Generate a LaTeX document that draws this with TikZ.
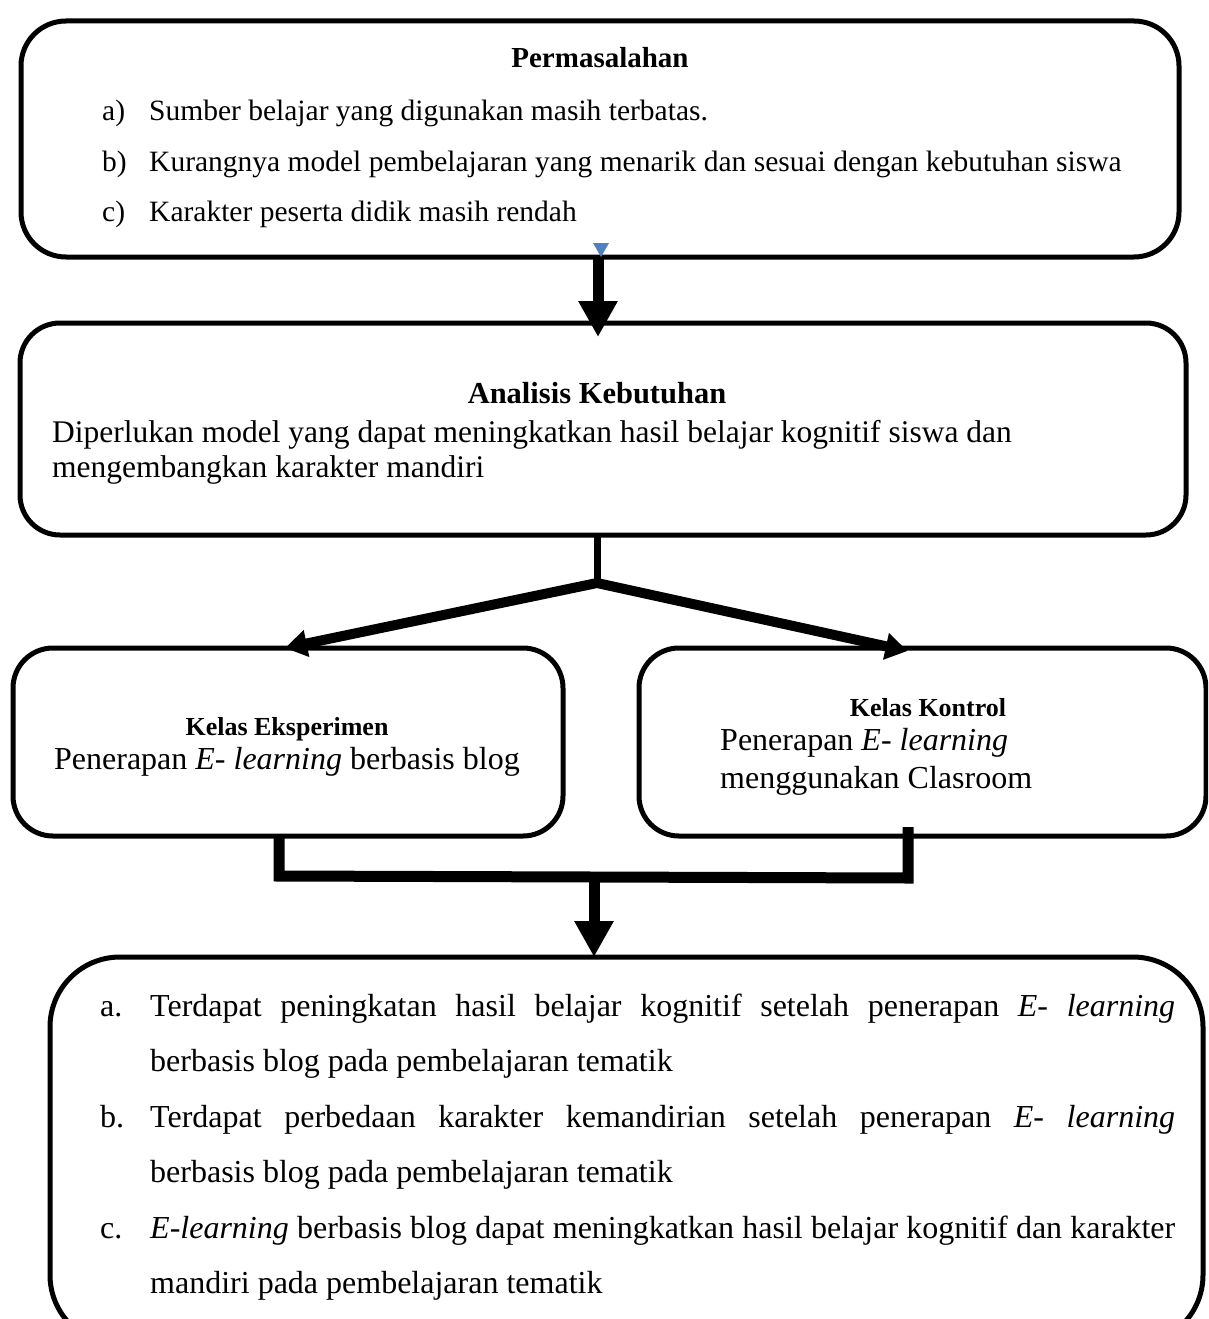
\documentclass[tikz,border=0pt]{standalone}
\usepackage{fontspec}
\setmainfont{Liberation Serif}
\usepackage{tikz}
\usetikzlibrary{arrows.meta}
\definecolor{wordblue}{HTML}{4F81BD}

\tikzset{
  flowbox/.style={draw, line width=5pt, rounded corners=#1, inner sep=0pt, outer sep=0pt},
  flowbox/.default=40pt,
  thickarrow/.style={line width=11pt, -{Triangle[width=37pt,length=36pt]}},
  diagarrow/.style={line width=10pt, line join=miter, {Triangle[width=26pt,length=22pt]}-{Triangle[width=26pt,length=22pt]}},
  joinline/.style={line width=11pt, line join=miter},
  probtext/.style={anchor=base west, inner sep=0pt, font=\fontsize{29.5}{35}\selectfont},
  classtitle/.style={anchor=base, inner sep=0pt, font=\bfseries\fontsize{26}{30}\selectfont},
  classtext/.style={anchor=base, inner sep=0pt, font=\fontsize{32}{38}\selectfont},
  resultlbl/.style={anchor=base west, inner sep=0pt, font=\fontsize{32}{55.5}\selectfont},
  resulttext/.style={anchor=base west, inner sep=0pt, align=left, font=\fontsize{32}{55.5}\selectfont}
}

\begin{document}
\begin{tikzpicture}[x=1pt, y=-1pt]
  \useasboundingbox (0,0) rectangle (1208,1319);
  \clip (0,0) rectangle (1208,1319);
  \fill[white] (0,0) rectangle (1208,1319);

  % Boxes
  \node[flowbox=45pt, minimum width=1158pt, minimum height=236pt] (problem) at (600,139) {};
  \node[flowbox, minimum width=1166pt, minimum height=212pt] (need) at (603,429) {};
  \node[flowbox, minimum width=550pt, minimum height=188pt] (expt) at (288,742) {};
  \node[flowbox, minimum width=567pt, minimum height=188pt] (ctrl) at (922.5,742) {};
  \node[flowbox=70pt, minimum width=1153pt, minimum height=388pt] (result) at (626.5,1151) {};

  % Permasalahan
  \node[anchor=base, inner sep=0pt, font=\bfseries\fontsize{29}{35}\selectfont] (probtitle) at (600,68) {Permasalahan};
  \foreach \lbl/\txt [count=\i] in {a/Sumber belajar yang digunakan masih terbatas., b/Kurangnya model pembelajaran yang menarik dan sesuai dengan kebutuhan siswa, c/Karakter peserta didik masih rendah} {
    \node[probtext] (lbl\lbl) at (102,71+50*\i) {\lbl)};
    \node[probtext] (item\lbl) at (149,71+50*\i) {\txt};
  }
  \fill[wordblue] ([xshift=-7pt,yshift=14pt]problem.south) -- ++(16,0) -- ++(-8,14) -- cycle;

  % Analisis kebutuhan
  \node[anchor=base, inner sep=0pt, font=\bfseries\fontsize{30.5}{36}\selectfont] (needtitle) at (597,403) {Analisis Kebutuhan};
  \node[anchor=base west, inner sep=0pt, align=left, font=\fontsize{31.5}{35}\selectfont] (needtext) at (52,477)
    {Diperlukan model yang dapat meningkatkan hasil belajar kognitif siswa dan\\mengembangkan karakter mandiri};

  % Kelas
  \node[classtitle] (expttitle) at (287,735) {Kelas Eksperimen};
  \node[classtext] (expttext) at (287,769) {Penerapan \textit{E- learning} berbasis blog};
  \node[classtitle] (ctrltitle) at (928,716) {Kelas Kontrol};
  \node[classtext, anchor=base west, align=left] (ctrltext) at (720,788) {Penerapan \textit{E- learning}\\menggunakan Clasroom};

  % Hasil
  \node[resultlbl] (lbla) at (100,1016) {a.};
  \node[resulttext] (resa) at (150,1071.5)
    {\makebox[1025pt][s]{Terdapat peningkatan hasil belajar kognitif setelah penerapan \textit{E- learning}}\\berbasis blog pada pembelajaran tematik};
  \node[resultlbl] (lblb) at (100,1127) {b.};
  \node[resulttext] (resb) at (150,1182.5)
    {\makebox[1025pt][s]{Terdapat perbedaan karakter kemandirian setelah penerapan \textit{E- learning}}\\berbasis blog pada pembelajaran tematik};
  \node[resultlbl] (lblc) at (100,1238) {c.};
  \node[resulttext] (resc) at (150,1293.5)
    {\makebox[1025pt][s]{\textit{E-learning} berbasis blog dapat meningkatkan hasil belajar kognitif dan karakter}\\mandiri pada pembelajaran tematik};

  % Connections
  \draw[thickarrow] ([xshift=-2pt]problem.south) -- ([xshift=-5pt,yshift=-14pt]need.north);
  \coordinate (fork) at (597,583);
  \draw[line width=7pt] (need.south -| fork) -- (fork);
  \draw[diagarrow] ([xshift=-3pt]expt.north) -- (fork) -- ([xshift=-15pt,yshift=-3pt]ctrl.north);
  \coordinate (mergeL) at (279,876);
  \coordinate (mergeR) at (908,878);
  \draw[joinline] ([xshift=-9pt]expt.south) -- (mergeL) -- (mergeR) -- ([xshift=-14.5pt,yshift=9pt]ctrl.south);
  \coordinate (mergeC) at (594,877);
  \draw[thickarrow] (mergeC) -- (result.north -| mergeC);
\end{tikzpicture}
\end{document}
